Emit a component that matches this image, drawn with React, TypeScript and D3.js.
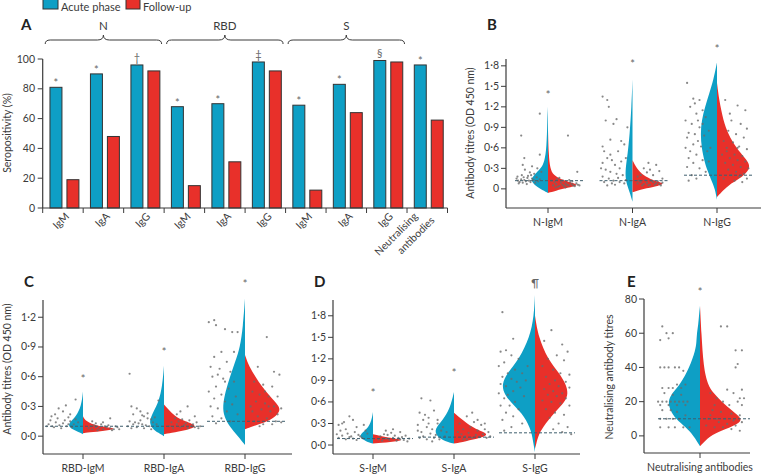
import React from "react";
import * as d3 from "d3";

const FONT = "Lato, 'Open Sans', sans-serif";
const BLUE = "#0e9fc5";
const RED = "#e8302a";
const INK = "#3b3b3b";
const DOT = "#6a6a6a";

// ---------- panel A : seropositivity bars ----------
const barLabels = ["IgM", "IgA", "IgG", "IgM", "IgA", "IgG", "IgM", "IgA", "IgG", "Neutralising antibodies"];
const acutePct = [81, 90, 96, 68, 70, 98, 69, 83, 99, 96];
const followPct = [19, 48, 92, 15, 31, 92, 12, 64, 98, 59];
const pctMarks = ["*", "*", "†", "*", "*", "‡", "*", "*", "§", "*"];
const antigenNames = ["N", "RBD", "S"];
const antigenSpans = [[0, 2], [3, 5], [6, 8]];
const pctTicks = [0, 20, 40, 60, 80, 100];

// ---------- violins: [value, relative half width] ----------
const nIgmAcuteShape = [[-0.06, 0], [0, 0.22], [0.05, 0.38], [0.13, 0.5], [0.2, 0.4], [0.3, 0.2], [0.4, 0.1], [0.6, 0.04], [1.0, 0.02], [1.2, 0]];
const nIgmFollowShape = [[-0.06, 0], [-0.03, 0.2], [0.02, 0.6], [0.06, 0.95], [0.12, 0.45], [0.2, 0.15], [0.3, 0.06], [0.5, 0.02], [0.85, 0]];
const nIgaAcuteShape = [[-0.19, 0], [-0.05, 0.08], [0.05, 0.15], [0.15, 0.2], [0.3, 0.2], [0.5, 0.14], [0.8, 0.08], [1.2, 0.03], [1.6, 0]];
const nIgaFollowShape = [[-0.05, 0], [0.0, 0.3], [0.04, 0.7], [0.08, 0.95], [0.12, 0.6], [0.2, 0.3], [0.3, 0.12], [0.42, 0]];
const nIggAcuteShape = [[-0.16, 0], [0.0, 0.06], [0.1, 0.14], [0.25, 0.26], [0.4, 0.36], [0.6, 0.44], [0.8, 0.47], [1.0, 0.44], [1.2, 0.34], [1.4, 0.22], [1.6, 0.1], [1.85, 0]];
const nIggFollowShape = [[-0.12, 0], [-0.05, 0.12], [0.05, 0.32], [0.15, 0.65], [0.25, 0.88], [0.35, 0.95], [0.45, 0.8], [0.6, 0.55], [0.8, 0.32], [1.0, 0.18], [1.3, 0.06], [1.55, 0]];

const rbdIgmAcuteShape = [[0.02, 0], [0.04, 0.12], [0.07, 0.32], [0.11, 0.43], [0.15, 0.35], [0.2, 0.2], [0.3, 0.05], [0.45, 0]];
const rbdIgmFollowShape = [[0.03, 0], [0.04, 0.25], [0.06, 0.75], [0.08, 0.98], [0.1, 0.4], [0.15, 0.08], [0.2, 0]];
const rbdIgaAcuteShape = [[0.0, 0], [0.03, 0.15], [0.08, 0.35], [0.15, 0.43], [0.25, 0.3], [0.35, 0.15], [0.5, 0.05], [0.71, 0]];
const rbdIgaFollowShape = [[0.02, 0], [0.03, 0.18], [0.06, 0.65], [0.1, 1.0], [0.15, 0.6], [0.2, 0.3], [0.32, 0]];
const rbdIggAcuteShape = [[-0.09, 0], [0.0, 0.2], [0.1, 0.45], [0.2, 0.6], [0.3, 0.64], [0.45, 0.56], [0.6, 0.43], [0.75, 0.28], [0.9, 0.14], [1.1, 0.06], [1.39, 0]];
const rbdIggFollowShape = [[0.07, 0], [0.1, 0.22], [0.13, 0.5], [0.18, 0.82], [0.25, 1.0], [0.3, 0.98], [0.4, 0.72], [0.5, 0.48], [0.6, 0.3], [0.7, 0.12], [0.82, 0]];

const sIgmAcuteShape = [[0.02, 0], [0.05, 0.2], [0.1, 0.37], [0.15, 0.36], [0.2, 0.22], [0.3, 0.06], [0.46, 0]];
const sIgmFollowShape = [[0.02, 0], [0.04, 0.5], [0.07, 0.95], [0.1, 0.42], [0.15, 0]];
const sIgaAcuteShape = [[0.02, 0], [0.05, 0.25], [0.12, 0.5], [0.22, 0.56], [0.35, 0.32], [0.5, 0.12], [0.74, 0]];
const sIgaFollowShape = [[0.02, 0], [0.05, 0.32], [0.1, 0.78], [0.15, 1.0], [0.2, 0.72], [0.3, 0.36], [0.45, 0]];
const sIggAcuteShape = [[-0.1, 0], [0.0, 0.04], [0.2, 0.1], [0.4, 0.3], [0.55, 0.6], [0.7, 0.88], [0.85, 0.95], [1.0, 0.8], [1.2, 0.45], [1.5, 0.15], [1.8, 0.03], [2.09, 0]];
const sIggFollowShape = [[-0.05, 0], [0.0, 0.03], [0.15, 0.1], [0.3, 0.3], [0.45, 0.55], [0.6, 0.86], [0.72, 0.95], [0.85, 0.88], [1.0, 0.7], [1.2, 0.36], [1.5, 0.1], [1.8, 0]];

const neutAcuteShape = [[-6, 0], [0, 0.18], [5, 0.4], [10, 0.7], [15, 0.85], [20, 0.92], [25, 0.8], [30, 0.57], [40, 0.3], [50, 0.13], [55, 0.1], [60, 0.09], [65, 0.05], [70, 0.03], [76, 0]];
const neutFollowShape = [[-6, 0], [0, 0.28], [3, 0.6], [7, 1.1], [10, 1.22], [15, 0.9], [20, 0.62], [25, 0.38], [30, 0.22], [40, 0.1], [60, 0.04], [76, 0]];

// ---------- individual titres: [jitter 0-1, value] ----------
const nIgmAcutePts = [[0.9, 0.12], [0.85, 0.1], [0.8, 0.14], [0.75, 0.09], [0.7, 0.13], [0.65, 0.11], [0.6, 0.16], [0.55, 0.12], [0.5, 0.1], [0.45, 0.15], [0.4, 0.13], [0.35, 0.09], [0.3, 0.17], [0.25, 0.11], [0.2, 0.14], [0.95, 0.15], [0.88, 0.08], [0.72, 0.17], [0.62, 0.07], [0.48, 0.2], [0.38, 0.22], [0.58, 0.19], [0.78, 0.2], [0.92, 0.18], [0.15, 0.25], [0.28, 0.3], [0.45, 0.33], [0.75, 0.35], [0.7, 0.45], [0.8, 0.78], [0.2, 1.1], [0.2, 0.5], [0.68, 0.28], [0.52, 0.24]];
const nIgmFollowPts = [[0.1, 0.05], [0.2, 0.07], [0.3, 0.04], [0.4, 0.06], [0.5, 0.08], [0.6, 0.05], [0.7, 0.07], [0.8, 0.04], [0.9, 0.06], [0.15, 0.1], [0.25, 0.03], [0.35, 0.09], [0.45, 0.04], [0.55, 0.06], [0.65, 0.1], [0.75, 0.05], [0.85, 0.08], [0.95, 0.05], [0.05, 0.12], [0.22, 0.14], [0.42, 0.12], [0.62, 0.13], [0.3, 0.16], [0.58, 0.78], [0.88, 0.25], [0.5, 0.02], [0.72, 0.11], [0.18, 0.02]];
const nIgaAcutePts = [[0.9, 1.35], [0.75, 1.3], [0.7, 1.2], [0.8, 1.0], [0.45, 1.02], [0.55, 0.95], [0.9, 0.62], [0.85, 0.55], [0.65, 0.72], [0.3, 0.7], [0.4, 0.55], [0.2, 0.65], [0.75, 0.45], [0.6, 0.42], [0.9, 0.38], [0.5, 0.35], [0.35, 0.3], [0.8, 0.28], [0.65, 0.25], [0.45, 0.22], [0.25, 0.2], [0.9, 0.18], [0.7, 0.15], [0.55, 0.12], [0.35, 0.1], [0.15, 0.13], [0.85, 0.1], [0.6, 0.08], [0.4, 0.16], [0.2, 0.08], [0.75, 0.05], [0.5, 0.06], [0.3, 0.4], [0.15, 0.45], [0.95, 0.3], [0.1, 0.9], [0.65, 0.5]];
const nIgaFollowPts = [[0.1, 0.08], [0.2, 0.1], [0.3, 0.07], [0.4, 0.09], [0.5, 0.06], [0.6, 0.1], [0.7, 0.08], [0.8, 0.07], [0.9, 0.09], [0.15, 0.12], [0.35, 0.13], [0.55, 0.12], [0.75, 0.11], [0.25, 0.05], [0.45, 0.05], [0.65, 0.06], [0.85, 0.05], [0.2, 0.2], [0.4, 0.24], [0.6, 0.2], [0.8, 0.26], [0.3, 0.3], [0.7, 0.35], [0.5, 0.28], [0.9, 0.15], [0.1, 0.18], [0.45, 0.38]];
const nIggAcutePts = [[0.9, 1.55], [0.7, 1.32], [0.5, 1.3], [0.8, 1.2], [0.4, 1.15], [0.6, 1.1], [0.95, 1.0], [0.3, 1.05], [0.75, 0.95], [0.5, 0.9], [0.85, 0.82], [0.65, 0.8], [0.9, 0.75], [0.35, 0.78], [0.55, 0.7], [0.7, 0.65], [0.95, 0.6], [0.45, 0.62], [0.8, 0.55], [0.25, 0.55], [0.6, 0.5], [0.85, 0.45], [0.4, 0.42], [0.7, 0.38], [0.9, 0.32], [0.5, 0.3], [0.3, 0.25], [0.75, 0.2], [0.6, 0.15], [0.85, 0.12], [0.2, 0.85], [0.15, 0.6], [0.65, 1.25], [0.4, 0.95], [0.55, 1.0], [0.2, 0.4]];
const nIggFollowPts = [[0.2, 1.3], [0.6, 1.22], [0.85, 1.15], [0.4, 1.0], [0.7, 0.95], [0.9, 0.88], [0.3, 0.85], [0.55, 0.8], [0.8, 0.75], [0.15, 0.7], [0.45, 0.68], [0.65, 0.62], [0.9, 0.58], [0.25, 0.55], [0.5, 0.5], [0.75, 0.48], [0.35, 0.45], [0.6, 0.42], [0.85, 0.4], [0.2, 0.38], [0.45, 0.35], [0.7, 0.32], [0.95, 0.3], [0.3, 0.28], [0.55, 0.25], [0.8, 0.22], [0.4, 0.2], [0.65, 0.18], [0.9, 0.15], [0.15, 0.15], [0.5, 0.12], [0.75, 0.1], [0.25, 0.6], [0.6, 0.6], [0.35, 1.1], [0.1, 0.5]];

const rbdIgmAcutePts = [[0.9, 0.12], [0.8, 0.1], [0.7, 0.14], [0.6, 0.11], [0.5, 0.13], [0.4, 0.1], [0.3, 0.15], [0.2, 0.12], [0.85, 0.16], [0.75, 0.09], [0.65, 0.18], [0.55, 0.08], [0.45, 0.16], [0.35, 0.19], [0.25, 0.09], [0.15, 0.17], [0.95, 0.1], [0.72, 0.22], [0.5, 0.25], [0.3, 0.22], [0.62, 0.28], [0.42, 0.31], [0.15, 0.37], [0.82, 0.2], [0.35, 0.12], [0.08, 0.14]];
const rbdIgmFollowPts = [[0.1, 0.08], [0.2, 0.07], [0.3, 0.09], [0.4, 0.08], [0.5, 0.07], [0.6, 0.09], [0.7, 0.08], [0.8, 0.07], [0.9, 0.09], [0.15, 0.1], [0.35, 0.06], [0.55, 0.1], [0.75, 0.06], [0.25, 0.11], [0.45, 0.12], [0.65, 0.11], [0.85, 0.1], [0.5, 0.14], [0.3, 0.13], [0.95, 0.07], [0.7, 0.18], [0.2, 0.15]];
const rbdIgaAcutePts = [[0.9, 0.63], [0.85, 0.3], [0.7, 0.28], [0.6, 0.25], [0.8, 0.22], [0.5, 0.2], [0.4, 0.18], [0.3, 0.17], [0.9, 0.15], [0.75, 0.14], [0.65, 0.13], [0.55, 0.12], [0.45, 0.11], [0.35, 0.1], [0.25, 0.14], [0.15, 0.12], [0.95, 0.1], [0.7, 0.09], [0.5, 0.08], [0.3, 0.07], [0.85, 0.08], [0.6, 0.16], [0.2, 0.19], [0.4, 0.23], [0.8, 0.12], [0.1, 0.36], [0.55, 0.21]];
const rbdIgaFollowPts = [[0.1, 0.1], [0.2, 0.08], [0.3, 0.12], [0.4, 0.09], [0.5, 0.11], [0.6, 0.08], [0.7, 0.1], [0.8, 0.09], [0.9, 0.08], [0.15, 0.14], [0.35, 0.15], [0.55, 0.13], [0.75, 0.12], [0.25, 0.18], [0.45, 0.17], [0.65, 0.16], [0.85, 0.14], [0.3, 0.22], [0.6, 0.3], [0.4, 0.25], [0.95, 0.1], [0.8, 0.2]];
const rbdIggAcutePts = [[0.95, 1.15], [0.8, 1.17], [0.75, 1.12], [0.3, 1.05], [0.15, 1.05], [0.5, 1.08], [0.6, 0.85], [0.8, 0.8], [0.45, 0.75], [0.9, 0.7], [0.65, 0.68], [0.35, 0.65], [0.85, 0.6], [0.55, 0.58], [0.25, 0.55], [0.75, 0.5], [0.4, 0.48], [0.95, 0.45], [0.6, 0.42], [0.2, 0.4], [0.8, 0.38], [0.5, 0.35], [0.3, 0.32], [0.9, 0.3], [0.7, 0.28], [0.45, 0.25], [0.15, 0.22], [0.85, 0.2], [0.6, 0.18], [0.35, 0.15], [0.75, 0.13], [0.5, 0.55], [0.7, 0.62], [0.25, 0.85]];
const rbdIggFollowPts = [[0.55, 1.0], [0.3, 0.7], [0.75, 0.65], [0.9, 0.62], [0.2, 0.55], [0.45, 0.52], [0.7, 0.5], [0.15, 0.45], [0.35, 0.42], [0.6, 0.4], [0.85, 0.4], [0.25, 0.35], [0.5, 0.33], [0.75, 0.3], [0.95, 0.28], [0.1, 0.3], [0.4, 0.27], [0.65, 0.25], [0.85, 0.22], [0.3, 0.2], [0.55, 0.18], [0.8, 0.15], [0.2, 0.15], [0.45, 0.12], [0.7, 0.12], [0.95, 0.14], [0.35, 0.1], [0.6, 0.3], [0.15, 0.25], [0.5, 0.45]];

const sIgmAcutePts = [[0.9, 0.28], [0.75, 0.32], [0.6, 0.4], [0.85, 0.2], [0.7, 0.22], [0.5, 0.35], [0.4, 0.25], [0.95, 0.15], [0.8, 0.13], [0.65, 0.16], [0.55, 0.12], [0.45, 0.18], [0.35, 0.14], [0.25, 0.1], [0.15, 0.2], [0.9, 0.1], [0.7, 0.08], [0.5, 0.09], [0.3, 0.12], [0.2, 0.28], [0.6, 0.11], [0.4, 0.07], [0.8, 0.3], [0.1, 0.16]];
const sIgmFollowPts = [[0.1, 0.08], [0.2, 0.06], [0.3, 0.09], [0.4, 0.07], [0.5, 0.1], [0.6, 0.06], [0.7, 0.08], [0.8, 0.07], [0.9, 0.05], [0.15, 0.12], [0.35, 0.14], [0.55, 0.13], [0.75, 0.11], [0.25, 0.15], [0.45, 0.17], [0.65, 0.1], [0.85, 0.13], [0.95, 0.09], [0.5, 0.22], [0.3, 0.2], [0.7, 0.18]];
const sIgaAcutePts = [[0.85, 0.65], [0.6, 0.62], [0.9, 0.45], [0.75, 0.42], [0.5, 0.48], [0.8, 0.35], [0.65, 0.38], [0.4, 0.3], [0.95, 0.28], [0.7, 0.25], [0.55, 0.22], [0.3, 0.2], [0.85, 0.18], [0.6, 0.16], [0.45, 0.14], [0.2, 0.12], [0.9, 0.1], [0.7, 0.08], [0.5, 0.1], [0.35, 0.08], [0.8, 0.12], [0.25, 0.25], [0.65, 0.3], [0.15, 0.18], [0.95, 0.2], [0.4, 0.35], [0.55, 0.05]];
const sIgaFollowPts = [[0.1, 0.3], [0.3, 0.4], [0.5, 0.32], [0.7, 0.28], [0.2, 0.22], [0.4, 0.25], [0.6, 0.2], [0.8, 0.22], [0.9, 0.18], [0.15, 0.15], [0.35, 0.17], [0.55, 0.14], [0.75, 0.15], [0.95, 0.12], [0.25, 0.12], [0.45, 0.1], [0.65, 0.11], [0.85, 0.1], [0.05, 0.18], [0.3, 0.08], [0.6, 0.35], [0.45, 0.45], [0.8, 0.3], [0.2, 0.08]];
const sIggAcutePts = [[0.85, 1.85], [0.55, 1.48], [0.75, 1.32], [0.9, 1.3], [0.6, 1.25], [0.4, 1.2], [0.8, 1.15], [0.95, 1.1], [0.5, 1.05], [0.7, 1.0], [0.3, 1.0], [0.85, 0.95], [0.6, 0.92], [0.45, 0.88], [0.9, 0.85], [0.75, 0.82], [0.35, 0.8], [0.55, 0.75], [0.95, 0.72], [0.7, 0.7], [0.25, 0.68], [0.8, 0.65], [0.5, 0.6], [0.65, 0.55], [0.9, 0.55], [0.4, 0.5], [0.75, 0.45], [0.55, 0.4], [0.85, 0.35], [0.3, 0.3], [0.6, 0.25], [0.8, 0.2], [0.2, 0.9], [0.15, 1.1]];
const sIggFollowPts = [[0.4, 1.6], [0.2, 1.45], [0.7, 1.4], [0.85, 1.3], [0.55, 1.25], [0.3, 1.2], [0.75, 1.18], [0.15, 1.1], [0.45, 1.05], [0.65, 1.0], [0.9, 0.98], [0.25, 0.95], [0.5, 0.9], [0.8, 0.88], [0.35, 0.85], [0.6, 0.82], [0.9, 0.8], [0.2, 0.78], [0.45, 0.75], [0.7, 0.72], [0.3, 0.7], [0.55, 0.68], [0.8, 0.65], [0.15, 0.62], [0.4, 0.6], [0.65, 0.58], [0.9, 0.55], [0.25, 0.5], [0.5, 0.45], [0.75, 0.42], [0.35, 0.38], [0.6, 0.3], [0.85, 0.25], [0.45, 0.22], [0.7, 0.18], [0.95, 0.15]];

const neutAcutePts = [[0.85, 64], [0.75, 60], [0.6, 60], [0.7, 57], [0.9, 56], [0.9, 40], [0.8, 40], [0.7, 40], [0.55, 40], [0.45, 40], [0.35, 38], [0.5, 30], [0.85, 28], [0.7, 28], [0.6, 28], [0.4, 28], [0.3, 30], [0.95, 20], [0.85, 20], [0.75, 20], [0.65, 20], [0.55, 20], [0.45, 20], [0.35, 20], [0.25, 20], [0.9, 18], [0.7, 18], [0.5, 18], [0.3, 18], [0.8, 25], [0.6, 24], [0.4, 24], [0.9, 10], [0.75, 10], [0.6, 10], [0.45, 10], [0.9, 5], [0.7, 5], [0.55, 5], [0.35, 5], [0.2, 5], [0.85, 15], [0.65, 15], [0.5, 14], [0.3, 12]];
const neutFollowPts = [[0.45, 64], [0.6, 64], [0.8, 50], [0.95, 50], [0.85, 42], [0.8, 40], [0.6, 27], [0.95, 27], [0.75, 25], [0.9, 22], [1.0, 22], [0.85, 20], [0.95, 18], [0.2, 25], [0.35, 22], [0.5, 20], [0.65, 18], [0.25, 15], [0.45, 14], [0.7, 13], [0.9, 12], [0.15, 10], [0.35, 10], [0.55, 10], [0.75, 9], [0.95, 8], [0.1, 6], [0.3, 5], [0.5, 5], [0.7, 4], [0.9, 3], [0.2, 12], [0.6, 7], [0.4, 8], [0.8, 6], [0.3, 18]];

// cut-offs and significance marks
const nCutoffs = [0.12, 0.12, 0.2];
const rbdCutoffs = [0.1, 0.1, 0.15];
const sCutoffs = [0.09, 0.11, 0.17];
const neutCutoffs = [10];
const nMarks = ["*", "*", "*"];
const nMarkAt = [1.38, 1.82, 2.05];
const rbdMarks = ["*", "*", "*"];
const rbdMarkAt = [0.58, 0.85, 1.54];
const sMarks = ["*", "*", "¶"];
const sMarkAt = [0.72, 1.0, 2.25];
const neutMarks = ["*"];
const neutMarkAt = [84];

const odTicks = [0, 0.3, 0.6, 0.9, 1.2, 1.5, 1.8];
const rbdTicks = [0, 0.3, 0.6, 0.9, 1.2];
const neutTicks = [0, 20, 40, 60, 80];

const dotFmt = (d: number, zero: string) => (d === 0 ? zero : d3.format(".1f")(d).replace(".", "·"));

type Panel = {
  letter: string;
  letterPos: [number, number];
  names: string[];
  xRange: [number, number];
  axisX: [number, number];
  yDomain: [number, number];
  yRange: [number, number];
  ticks: number[];
  fmt: (d: number) => string;
  yLabel?: string;
  yLabelPos?: [number, number];
  acute: number[][][];
  follow: number[][][];
  acutePts: number[][][];
  followPts: number[][][];
  cutoffs: number[];
  cutExtent: [number, number];
  marks: string[];
  markAt: number[];
  jitter: number;
};

const panels: Panel[] = [
  {
    letter: "B", letterPos: [487, 30], names: ["N-IgM", "N-IgA", "N-IgG"],
    xRange: [548, 717], axisX: [506, 761], yDomain: [-0.28, 1.9], yRange: [208, 59],
    ticks: odTicks, fmt: (d) => dotFmt(d, "0"),
    yLabel: "Antibody titres (OD 450 nm)", yLabelPos: [474, 133],
    acute: [nIgmAcuteShape, nIgaAcuteShape, nIggAcuteShape],
    follow: [nIgmFollowShape, nIgaFollowShape, nIggFollowShape],
    acutePts: [nIgmAcutePts, nIgaAcutePts, nIggAcutePts],
    followPts: [nIgmFollowPts, nIgaFollowPts, nIggFollowPts],
    cutoffs: nCutoffs, cutExtent: [-33, 36], marks: nMarks, markAt: nMarkAt, jitter: 31,
  },
  {
    letter: "C", letterPos: [24, 287], names: ["RBD-IgM", "RBD-IgA", "RBD-IgG"],
    xRange: [83, 245], axisX: [43, 292], yDomain: [-0.18, 1.374], yRange: [454, 300],
    ticks: rbdTicks, fmt: (d) => dotFmt(d, "0·0"),
    yLabel: "Antibody titres (OD 450 nm)", yLabelPos: [11, 369],
    acute: [rbdIgmAcuteShape, rbdIgaAcuteShape, rbdIggAcuteShape],
    follow: [rbdIgmFollowShape, rbdIgaFollowShape, rbdIggFollowShape],
    acutePts: [rbdIgmAcutePts, rbdIgaAcutePts, rbdIggAcutePts],
    followPts: [rbdIgmFollowPts, rbdIgaFollowPts, rbdIggFollowPts],
    cutoffs: rbdCutoffs, cutExtent: [-38, 40], marks: rbdMarks, markAt: rbdMarkAt, jitter: 36,
  },
  {
    letter: "D", letterPos: [314, 287], names: ["S-IgM", "S-IgA", "S-IgG"],
    xRange: [373, 535], axisX: [333, 580], yDomain: [-0.125, 2.02], yRange: [454, 300],
    ticks: odTicks, fmt: (d) => dotFmt(d, "0·0"),
    acute: [sIgmAcuteShape, sIgaAcuteShape, sIggAcuteShape],
    follow: [sIgmFollowShape, sIgaFollowShape, sIggFollowShape],
    acutePts: [sIgmAcutePts, sIgaAcutePts, sIggAcutePts],
    followPts: [sIgmFollowPts, sIgaFollowPts, sIggFollowPts],
    cutoffs: sCutoffs, cutExtent: [-36, 40], marks: sMarks, markAt: sMarkAt, jitter: 36,
  },
  {
    letter: "E", letterPos: [627, 287], names: ["Neutralising antibodies"],
    xRange: [700, 700], axisX: [644, 750], yDomain: [-10, 80], yRange: [453, 299],
    ticks: neutTicks, fmt: (d) => String(d),
    yLabel: "Neutralising antibody titres", yLabelPos: [613, 377],
    acute: [neutAcuteShape], follow: [neutFollowShape],
    acutePts: [neutAcutePts], followPts: [neutFollowPts],
    cutoffs: neutCutoffs, cutExtent: [-42, 50], marks: neutMarks, markAt: neutMarkAt, jitter: 42,
  },
];

const widthScale = d3.scaleLinear().domain([0, 1]).range([0, 35]);

function ViolinPanel({ p }: { p: Panel }) {
  const y = d3.scaleLinear().domain(p.yDomain).range(p.yRange);
  const x = d3.scalePoint<string>().domain(p.names).range(p.xRange);
  const halfArea = (cx: number, side: number) =>
    d3.area<number[]>()
      .y((d) => y(d[0]))
      .x0(cx)
      .x1((d) => cx + side * widthScale(d[1]))
      .curve(d3.curveBasis);
  const [top, bottom] = [p.yRange[1], p.yRange[0]];
  return (
    <g>
      <text x={p.letterPos[0]} y={p.letterPos[1]} fontSize={15} fontWeight={700} fill="#222">{p.letter}</text>
      {p.names.map((name, i) => {
        const cx = x(name) as number;
        return (
          <g key={name}>
            <path d={halfArea(cx, -1)(p.acute[i]) || ""} fill={BLUE} />
            <path d={halfArea(cx, 1)(p.follow[i]) || ""} fill={RED} />
            {p.acutePts[i].map((d, k) => (
              <circle key={"a" + k} cx={cx - 2 - d[0] * p.jitter} cy={y(d[1])} r={1.1} fill={DOT} opacity={0.8} />
            ))}
            {p.followPts[i].map((d, k) => (
              <circle key={"f" + k} cx={cx + 2 + d[0] * p.jitter} cy={y(d[1])} r={1.1} fill={DOT} opacity={0.8} />
            ))}
            <line x1={cx + p.cutExtent[0]} x2={cx + p.cutExtent[1]} y1={y(p.cutoffs[i])} y2={y(p.cutoffs[i])}
              stroke="#3f5f6e" strokeWidth={1} strokeDasharray="3,2" />
            <text x={cx} y={y(p.markAt[i]) + 4} textAnchor="middle" fontSize={11} fill="#666">{p.marks[i]}</text>
            <line x1={cx} x2={cx} y1={bottom} y2={bottom + 5} stroke={INK} />
            <text x={cx} y={bottom + 18} textAnchor="middle" fontSize={10.5} fill={INK}>{name}</text>
          </g>
        );
      })}
      <line x1={p.axisX[0]} x2={p.axisX[0]} y1={top} y2={bottom} stroke={INK} strokeWidth={1.2} />
      <line x1={p.axisX[0]} x2={p.axisX[1]} y1={bottom} y2={bottom} stroke={INK} strokeWidth={1.2} />
      {p.ticks.map((t) => (
        <g key={t}>
          <line x1={p.axisX[0] - 5} x2={p.axisX[0]} y1={y(t)} y2={y(t)} stroke={INK} />
          <text x={p.axisX[0] - 7} y={y(t) + 3.5} textAnchor="end" fontSize={10.5} fill={INK}>{p.fmt(t)}</text>
        </g>
      ))}
      {p.yLabel && p.yLabelPos && (
        <text transform={`translate(${p.yLabelPos[0]},${p.yLabelPos[1]}) rotate(-90)`} textAnchor="middle" fontSize={10.5} fill={INK}>
          {p.yLabel}
        </text>
      )}
    </g>
  );
}

function BarPanel() {
  const y = d3.scaleLinear().domain([0, 100]).range([208, 59]);
  const x = d3.scaleBand<number>().domain(d3.range(barLabels.length)).range([42.7, 447.5]);
  const inner = d3.scaleBand<string>().domain(["acute", "follow"]).range([0, x.bandwidth()])
    .paddingInner(0.294).paddingOuter(0.34).align(0.63);
  const bw = inner.bandwidth();
  const base = y(0);
  return (
    <g>
      {/* legend */}
      <rect x={43} y={-2} width={15} height={11} fill={BLUE} stroke="#333" strokeWidth={1} />
      <text x={61} y={11} fontSize={11} fill={INK}>Acute phase</text>
      <rect x={126} y={-2} width={14} height={11} fill={RED} stroke="#333" strokeWidth={1} />
      <text x={143} y={11} fontSize={11} fill={INK}>Follow-up</text>
      <text x={21} y={30} fontSize={15} fontWeight={700} fill="#222">A</text>
      {antigenNames.map((name, k) => {
        const x0 = (x(antigenSpans[k][0]) as number) + 2.5;
        const x1 = (x(antigenSpans[k][1]) as number) + x.bandwidth() - 2.5;
        const mid = (x0 + x1) / 2;
        const yb = 40;
        const d = `M${x0},${yb + 4} Q${x0},${yb} ${x0 + 5},${yb} L${mid - 6},${yb} Q${mid},${yb} ${mid},${yb - 5} Q${mid},${yb} ${mid + 6},${yb} L${x1 - 5},${yb} Q${x1},${yb} ${x1},${yb + 4}`;
        return (
          <g key={name}>
            <path d={d} fill="none" stroke={INK} strokeWidth={1} />
            <text x={mid} y={30} textAnchor="middle" fontSize={11.5} fill={INK}>{name}</text>
          </g>
        );
      })}
      {barLabels.map((lab, i) => {
        const bx = x(i) as number;
        const ax = bx + (inner("acute") as number);
        const fx = bx + (inner("follow") as number);
        const cx = bx + x.bandwidth() / 2;
        return (
          <g key={i}>
            <rect x={ax} y={y(acutePct[i])} width={bw} height={base - y(acutePct[i])} fill={BLUE} stroke="#333" strokeWidth={1} />
            <rect x={fx} y={y(followPct[i])} width={bw} height={base - y(followPct[i])} fill={RED} stroke="#333" strokeWidth={1} />
            <text x={ax + bw / 2} y={y(acutePct[i]) - (pctMarks[i] === "*" ? 0 : 3)} textAnchor="middle" fontSize={11} fill="#666">
              {pctMarks[i]}
            </text>
            {i < barLabels.length - 1 ? (
              <text transform={`translate(${cx + 7},${base + 9}) rotate(-45)`} textAnchor="end" fontSize={10.5} fill={INK}>{lab}</text>
            ) : (
              <g>
                <text transform={`translate(${cx - 9},${base + 9}) rotate(-45)`} textAnchor="end" fontSize={10.5} fill={INK}>{lab.split(" ")[0]}</text>
                <text transform={`translate(${cx + 8},${base + 13}) rotate(-45)`} textAnchor="end" fontSize={10.5} fill={INK}>{lab.split(" ")[1]}</text>
              </g>
            )}
          </g>
        );
      })}
      {d3.range(barLabels.length + 1).map((i) => {
        const tx = 42.7 + i * x.bandwidth();
        return <line key={i} x1={tx} x2={tx} y1={base} y2={base + 5} stroke={INK} />;
      })}
      <line x1={42.7} x2={42.7} y1={y(100)} y2={base} stroke={INK} strokeWidth={1.2} />
      <line x1={42.7} x2={447.5} y1={base} y2={base} stroke={INK} strokeWidth={1.2} />
      {pctTicks.map((t) => (
        <g key={t}>
          <line x1={37.7} x2={42.7} y1={y(t)} y2={y(t)} stroke={INK} />
          <text x={35} y={y(t) + 3.5} textAnchor="end" fontSize={10.5} fill={INK}>{t}</text>
        </g>
      ))}
      <text transform="translate(11,133) rotate(-90)" textAnchor="middle" fontSize={10.5} fill={INK}>Seropositivity (%)</text>
    </g>
  );
}

export default function App() {
  return (
    <svg width={761} height={474} style={{ position: "absolute", left: 0, top: 0, background: "#fff" }} fontFamily={FONT}>
      <BarPanel />
      {panels.map((p) => (
        <ViolinPanel key={p.letter} p={p} />
      ))}
    </svg>
  );
}
